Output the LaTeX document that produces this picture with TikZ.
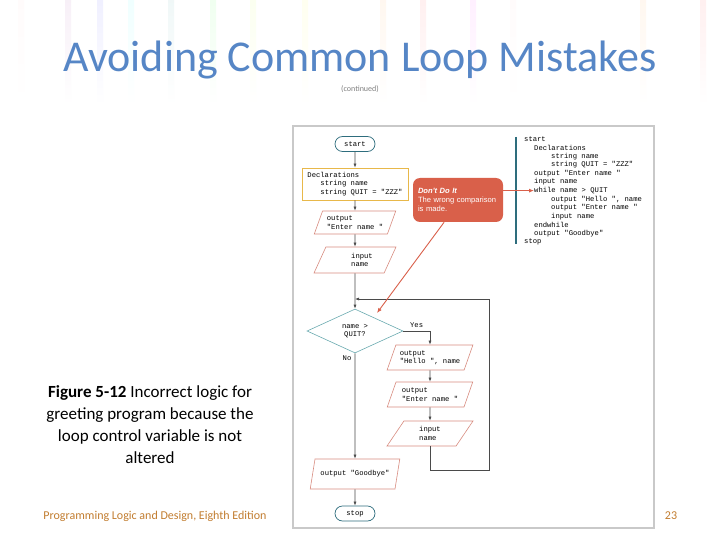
\documentclass[tikz,border=0pt]{standalone}
\usepackage{fontspec}
\setmainfont{Carlito}
\newfontfamily\codefont{Liberation Mono}
\newfontfamily\notefont{Liberation Sans}
\usetikzlibrary{shapes.geometric, shapes.misc, arrows.meta, positioning}
\definecolor{titleblue}{HTML}{5686C6}
\definecolor{footbrown}{HTML}{C27D30}
\definecolor{termteal}{HTML}{2E6D7D}
\definecolor{iored}{HTML}{D88C80}
\definecolor{declgold}{HTML}{E8B84A}
\definecolor{decteal}{HTML}{6AAAB0}
\definecolor{warnred}{HTML}{D9604A}
\definecolor{framegray}{HTML}{C9C9C9}
\definecolor{flowgray}{HTML}{4A4A4A}
\newcommand{\codesize}{\codefont\fontsize{7.2}{8.4}\selectfont}
\tikzset{
    terminal/.style={rounded rectangle, draw=termteal, line width=0.7pt,
        minimum width=42pt, minimum height=15pt, inner sep=1pt, font=\codesize},
    declbox/.style={rectangle, draw=declgold, line width=0.8pt, align=left,
        minimum width=106pt, minimum height=32pt, inner sep=2pt, font=\codesize},
    iobox/.style={trapezium, trapezium left angle=64, trapezium right angle=116,
        trapezium stretches=true, draw=iored, line width=0.6pt, align=left,
        minimum width=82pt, minimum height=24pt, inner sep=1pt, font=\codesize},
    decision/.style={diamond, draw=decteal, line width=0.6pt, align=center,
        minimum width=96pt, minimum height=44pt, inner sep=0pt, font=\codesize},
    flow/.style={draw=flowgray, line width=0.6pt, -{Latex[length=4pt,width=3pt]}},
    warn/.style={draw=warnred, line width=0.9pt, -{Latex[length=5pt,width=4pt]}},
    codeline/.style={anchor=west, inner sep=0pt, font=\codesize},
}

\begin{document}
\begin{tikzpicture}[x=1pt, y=-1pt]
    \useasboundingbox (0,0) rectangle (720,540);
    \fill[white] (0,0) rectangle (720,540);
    % faint theme streaks
    \foreach \sx/\sc in {18/pink, 65/violet, 97/blue, 128/cyan, 168/teal, 210/green,
        250/lime, 302/yellow, 380/orange, 420/red, 470/magenta, 510/pink, 640/orange, 700/red}{
        \shade[top color=\sc!6, bottom color=white] (\sx,0) rectangle ++(6,105);
    }

    \node[anchor=base, font=\fontsize{44}{52}\selectfont, text=titleblue] (title) at (360,72)
        {Avoiding Common Loop Mistakes};
    \node[anchor=base, font=\fontsize{8}{9}\selectfont, text=gray] (cont) at (360,92) {(continued)};

    \node[align=center, font=\fontsize{17}{22}\selectfont] (caption) at (150,425)
        {\textbf{Figure 5-12} Incorrect logic for\\greeting program because the\\loop control variable is not\\altered};
    \node[anchor=base, font=\fontsize{12}{14}\selectfont, text=footbrown] (foot) at (155,519)
        {Programming Logic and Design, Eighth Edition};
    \node[anchor=base, font=\fontsize{12}{14}\selectfont, text=footbrown] (pagenum) at (671,519) {23};

    \draw[framegray, line width=1.2pt] (293,126) rectangle (654,528);

    % flowchart
    \node[terminal] (start) at (355,144) {start};
    \node[declbox] (decl) at (355,184)
        {Declarations\\\hspace*{13pt}string name\\\hspace*{13pt}string QUIT = "ZZZ"};
    \node[iobox, minimum height=23pt] (out1) at (355,222.5) {output\\"Enter name "};
    \node[iobox, minimum height=26pt] (in1) at (355,260) {\hspace*{14pt}input\\\hspace*{14pt}name};
    \coordinate (merge) at (355,299);
    \node[decision] (test) at (355,331) {name >\\QUIT?};
    \node[iobox, minimum width=86pt, minimum height=25pt] (hello) at (430,357.5) {output\\"Hello ", name};
    \node[iobox, minimum width=86pt, minimum height=25pt] (enter2) at (430,394.5) {output\\"Enter name "};
    \node[iobox, minimum width=86pt, minimum height=25pt] (in2) at (430,433.5) {input\\name};
    \node[iobox, minimum width=90pt, minimum height=30pt] (bye) at (355,474) {output "Goodbye"};
    \node[terminal] (stop) at (355,513.5) {stop};
    \coordinate (loopBR) at (489,470);
    \coordinate (loopTR) at (489,299);

    \draw[flow] (start) -- (decl);
    \draw[flow] (decl) -- (out1);
    \draw[flow] (out1) -- (in1);
    \draw[flow] (in1) -- (test);
    \draw[flow] (test.east) -| node[pos=0.25, above, font=\codesize] {Yes} (hello.north);
    \draw[flow] (hello) -- (enter2);
    \draw[flow] (enter2) -- (in2);
    \draw[flow] (in2.south) |- (loopBR) -- (loopTR) -- (merge);
    \draw[flow] (test.south) -- node[pos=0.05, left, font=\codesize] {No} (bye.north);
    \draw[flow] (bye) -- (stop);

    % pseudocode
    \draw[termteal, line width=1.6pt] (516,137) -- (516,244);
    \foreach \dx/\txt [count=\i] in {0/start, 10/Declarations, 27/string name,
        27/{string QUIT = "ZZZ"}, 10/{output "Enter name "}, 10/input name,
        10/{while name > QUIT}, 27/{output "Hello ", name}, 27/{output "Enter name "},
        27/input name, 10/endwhile, 10/{output "Goodbye"}, 0/stop}{
        \node[codeline] (p\i) at (524+\dx, 139+8.6*\i-8.6) {\txt};
    }

    % callout
    \node[fill=warnred, rounded corners=7pt, minimum width=90pt, minimum height=44pt,
        text width=80pt, align=left, text=white, inner xsep=5pt, inner ysep=3pt,
        font=\notefont\fontsize{7.6}{9.2}\selectfont] (callout) at (458,200)
        {\textbf{\textit{Don't Do It}}\\The wrong comparison\\is made.};
    \coordinate (wrongtip) at (377,313);
    \draw[warn] (callout.-122) -- (wrongtip);
    \draw[warn] (callout.east |- p7.west) -- (p7.west);
\end{tikzpicture}
\end{document}
